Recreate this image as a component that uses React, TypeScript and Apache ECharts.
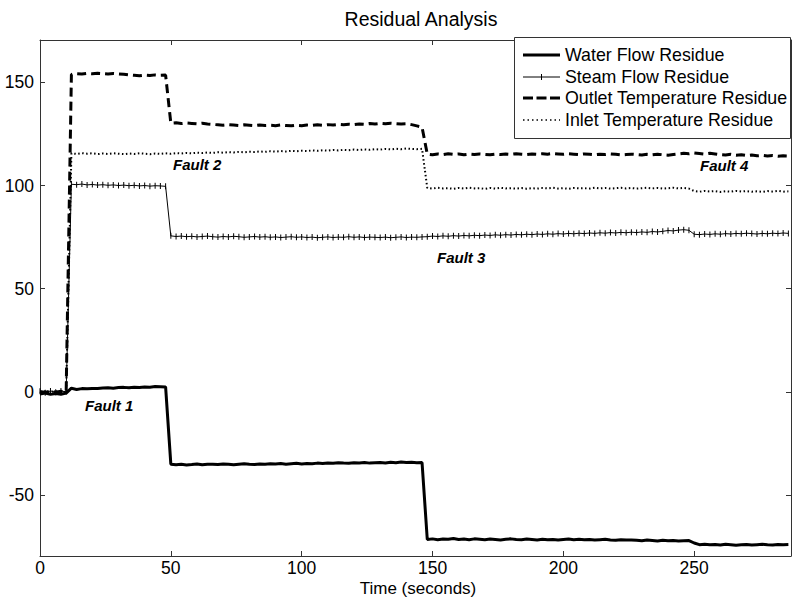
import React, { useEffect, useRef } from 'react';
import * as echarts from 'echarts';

const times = [0,2,4,6,8,10,12,14,16,18,20,22,24,26,28,30,32,34,36,38,40,42,44,46,48,50,52,54,56,58,60,62,64,66,68,70,72,74,76,78,80,82,84,86,88,90,92,94,96,98,100,102,104,106,108,110,112,114,116,118,120,122,124,126,128,130,132,134,136,138,140,142,144,146,148,150,152,154,156,158,160,162,164,166,168,170,172,174,176,178,180,182,184,186,188,190,192,194,196,198,200,202,204,206,208,210,212,214,216,218,220,222,224,226,228,230,232,234,236,238,240,242,244,246,248,250,252,254,256,258,260,262,264,266,268,270,272,274,276,278,280,282,284,286];

const waterFlow = [
  -1.0,-0.5,-1.2,-0.8,-1.1,-0.6,
  1.8,1.2,1.6,1.5,1.7,1.6,1.9,2.0,1.8,2.1,2.2,2.0,2.3,2.1,2.4,2.3,2.6,2.5,2.4,
  -35.0,-35.3,-35.1,-35.4,-35.2,-34.9,-35.3,-35.1,-35.0,-35.2,
  -34.9,-35.1,-35.3,-35.0,-34.8,-35.1,-35.2,-34.9,-35.0,-34.8,
  -34.9,-34.7,-35.0,-34.8,-34.6,-34.9,-34.7,-34.8,-34.5,-34.7,
  -34.4,-34.6,-34.3,-34.5,-34.6,-34.3,-34.4,-34.2,-34.5,-34.3,
  -34.2,-34.4,-34.1,-34.3,-34.0,-34.2,-34.1,-34.3,-34.2,
  -71.5,-71.2,-71.6,-71.3,-71.4,-71.0,-71.5,-71.3,-71.6,-71.2,
  -71.4,-71.6,-71.3,-71.5,-71.7,-71.4,-71.2,-71.5,-71.6,-71.3,
  -71.5,-71.7,-71.4,-71.6,-71.5,-71.8,-71.5,-71.3,-71.6,-71.4,
  -71.6,-71.5,-71.8,-71.6,-71.4,-71.7,-71.9,-71.6,-71.8,-71.7,
  -71.9,-72.1,-71.8,-72.0,-72.2,-71.9,-72.1,-72.0,-72.2,-72.1,-72.0,
  -73.2,-74.0,-73.8,-74.1,-73.9,-74.2,-73.8,-74.0,-74.3,-74.1,-73.9,-74.2,-74.0,-73.8,-74.1,-74.2,-73.9,-74.0,-73.9
];

const steamFlow = [
  0.3,-0.4,0.5,-0.2,0.4,0.1,
  100.6,100.4,100.7,100.3,100.5,100.2,100.4,100.1,100.3,100.0,100.2,99.9,100.1,99.8,100.0,99.7,99.9,99.8,99.6,
  75.6,75.3,75.5,75.2,75.4,75.1,75.3,75.5,75.2,75.0,
  75.3,75.1,75.4,75.2,74.9,75.1,75.3,75.0,75.2,74.9,
  75.1,74.8,75.0,75.2,74.9,75.1,74.8,75.0,74.7,74.9,
  75.1,74.8,75.0,74.9,75.2,74.9,75.1,74.8,75.0,74.9,
  74.8,75.0,74.7,74.9,75.1,74.8,75.0,74.9,75.1,
  75.2,75.5,75.3,75.6,75.4,75.7,75.5,75.8,75.6,75.9,
  75.7,76.0,75.8,76.1,75.9,76.2,76.0,76.3,76.1,76.4,
  76.2,76.5,76.3,76.6,76.4,76.7,76.5,76.8,76.6,76.9,
  76.7,77.0,76.8,77.1,76.9,77.2,77.0,77.3,77.1,77.4,
  77.2,77.5,77.3,77.7,77.5,77.8,78.2,78.0,78.4,78.6,78.3,
  76.4,76.2,76.5,76.3,76.6,76.4,76.7,76.5,76.8,76.6,76.9,76.7,76.5,76.8,76.6,76.9,76.7,77.0,76.8
];

const outletTemp = [
  0.2,-0.3,0.4,-0.1,0.3,0.0,
  153.8,154.2,154.0,154.3,154.1,154.4,154.2,154.0,154.3,154.1,153.9,153.6,153.4,153.2,153.5,153.3,153.6,153.4,153.5,
  130.2,130.4,130.0,130.3,130.1,129.9,130.2,129.8,129.6,129.4,
  129.2,129.5,129.3,129.1,129.4,129.2,129.0,129.3,129.1,129.2,
  129.0,129.3,129.1,128.9,129.2,129.0,129.3,129.1,129.4,129.2,
  129.5,129.3,129.6,129.4,129.7,129.5,129.8,129.6,130.0,129.8,
  130.1,129.9,130.2,130.0,129.8,129.9,129.5,128.9,128.3,
  115.2,114.9,115.3,115.0,115.4,115.1,115.3,114.9,115.2,115.0,
  115.3,115.1,114.9,115.2,115.0,115.3,115.1,115.4,115.2,115.0,
  115.3,115.1,115.4,115.2,115.5,115.3,115.1,115.4,115.2,115.0,
  115.3,115.1,114.9,115.2,115.0,115.3,115.1,114.8,115.0,115.2,
  115.0,114.8,115.1,114.9,115.2,114.9,114.7,115.0,115.3,115.6,115.4,
  115.8,115.5,115.2,115.6,115.3,115.0,114.8,115.1,114.7,114.9,114.5,114.8,114.4,114.6,114.3,114.5,114.2,114.4,114.3
];

const inletTemp = [
  -0.2,0.3,-0.1,0.4,-0.3,0.1,
  115.6,115.3,115.7,115.4,115.6,115.2,115.5,115.3,115.6,115.4,115.2,115.5,115.3,115.6,115.4,115.2,115.5,115.3,115.6,
  115.4,115.7,115.5,115.8,115.6,115.9,115.7,116.0,115.8,116.1,
  115.9,116.2,116.0,116.3,116.1,116.4,116.2,116.5,116.3,116.6,
  116.4,116.7,116.5,116.8,116.6,116.9,116.7,117.0,116.8,117.1,
  116.9,117.2,117.0,117.3,117.1,117.4,117.2,117.5,117.3,117.6,
  117.4,117.7,117.5,117.8,117.6,117.9,117.7,117.6,117.8,
  98.8,98.5,98.9,98.6,98.7,98.4,98.8,98.5,98.9,98.6,
  98.7,98.4,98.8,98.5,98.9,98.6,98.7,98.5,98.8,98.4,
  98.7,98.5,98.8,98.6,98.9,98.5,98.7,98.4,98.8,98.6,
  98.7,98.5,98.9,98.6,98.8,98.5,98.7,98.9,98.6,98.8,
  98.5,98.7,98.9,98.6,98.8,98.5,98.7,98.9,98.6,98.8,98.5,
  97.3,97.0,97.4,97.1,97.3,96.9,97.2,97.0,97.4,97.1,97.3,97.0,97.2,96.9,97.3,97.1,97.4,97.0,97.2
];

const seriesNames = ['Water Flow Residue', 'Steam Flow Residue', 'Outlet Temperature Residue', 'Inlet Temperature Residue'];
const xTicks = [0, 50, 100, 150, 200, 250];
const yTicks = [-50, 0, 50, 100, 150];
const faultLabels = ['Fault 1', 'Fault 2', 'Fault 3', 'Fault 4'];

const FONT = '"Liberation Sans", Arial, Helvetica, sans-serif';

function pairs(vals: number[]) {
  return times.map((t, i) => [t, vals[i]]);
}

export default function App() {
  const ref = useRef<HTMLDivElement>(null);
  useEffect(() => {
    if (!ref.current) return;
    const chart = echarts.init(ref.current, undefined, { renderer: 'svg' });
    const axisLine = { show: true, onZero: false, lineStyle: { color: '#333', width: 1 } };
    const tick = { show: true, inside: true, length: 5, lineStyle: { color: '#333' } };
    const label = { color: '#000', fontSize: 17.5, fontFamily: FONT };

    const legendRows = [55, 77, 98, 120];
    const lx1 = 523;
    const lx2 = 560;
    const legendGraphics: any[] = [
      { type: 'rect', z: 100, shape: { x: 514.5, y: 37.5, width: 276, height: 101 }, style: { fill: '#fff', stroke: '#333', lineWidth: 1 } },
      { type: 'line', z: 101, shape: { x1: lx1, y1: legendRows[0], x2: lx2, y2: legendRows[0] }, style: { stroke: '#000', lineWidth: 3 } },
      { type: 'line', z: 101, shape: { x1: lx1, y1: legendRows[1], x2: lx2, y2: legendRows[1] }, style: { stroke: '#000', lineWidth: 1 } },
      { type: 'line', z: 101, shape: { x1: 541.5, y1: legendRows[1] - 3, x2: 541.5, y2: legendRows[1] + 3 }, style: { stroke: '#000', lineWidth: 1 } },
      { type: 'line', z: 101, shape: { x1: lx1, y1: legendRows[2], x2: lx2, y2: legendRows[2] }, style: { stroke: '#000', lineWidth: 3, lineDash: [10, 3.5] } },
      { type: 'line', z: 101, shape: { x1: lx1, y1: legendRows[3], x2: lx2, y2: legendRows[3] }, style: { stroke: '#000', lineWidth: 1.5, lineDash: [1.5, 3] } },
      ...seriesNames.map((n, i) => ({
        type: 'text', z: 101, x: 565, y: legendRows[i],
        style: { text: n, fill: '#000', font: `17.8px ${FONT}`, textVerticalAlign: 'middle' },
      })),
    ];

    const option: any = {
      animation: false,
      backgroundColor: '#fff',
      grid: { left: 40, top: 40, right: 1, bottom: 45, containLabel: false, outerBoundsMode: 'none' },
      xAxis: [
        {
          type: 'value', min: 0, max: 287, interval: 50, position: 'bottom',
          axisLine, axisTick: { ...tick, customValues: xTicks }, splitLine: { show: false },
          axisLabel: { ...label, margin: 3, customValues: xTicks },
        },
        {
          type: 'value', min: 0, max: 287, interval: 50, position: 'top',
          axisLine, axisTick: { ...tick, customValues: xTicks }, splitLine: { show: false }, axisLabel: { show: false },
        },
      ],
      yAxis: [
        {
          type: 'value', min: -79.5, max: 170.5, position: 'left',
          axisLine, axisTick: { ...tick, customValues: yTicks }, splitLine: { show: false },
          axisLabel: { ...label, margin: 6, customValues: yTicks },
        },
        {
          type: 'value', min: -79.5, max: 170.5, position: 'right',
          axisLine, axisTick: { ...tick, customValues: yTicks }, splitLine: { show: false },
          axisLabel: { show: false },
        },
      ],
      graphic: [
        { type: 'text', x: 421, y: 18.5, style: { text: 'Residual Analysis', fill: '#000', font: `19.5px ${FONT}`, textAlign: 'center', textVerticalAlign: 'middle' } },
        { type: 'text', x: 418, y: 588, style: { text: 'Time (seconds)', fill: '#000', font: `17px ${FONT}`, textAlign: 'center', textVerticalAlign: 'middle' } },
        { type: 'text', x: 85, y: 405, style: { text: faultLabels[0], fill: '#000', font: `italic bold 15px ${FONT}`, textVerticalAlign: 'middle' } },
        { type: 'text', x: 173, y: 164, style: { text: faultLabels[1], fill: '#000', font: `italic bold 15px ${FONT}`, textVerticalAlign: 'middle' } },
        { type: 'text', x: 437, y: 257.5, style: { text: faultLabels[2], fill: '#000', font: `italic bold 15px ${FONT}`, textVerticalAlign: 'middle' } },
        { type: 'text', x: 700, y: 165, style: { text: faultLabels[3], fill: '#000', font: `italic bold 15px ${FONT}`, textVerticalAlign: 'middle' } },
        ...legendGraphics,
      ],
      series: [
        {
          name: seriesNames[0], type: 'line', data: pairs(waterFlow), showSymbol: false, symbol: 'none',
          lineStyle: { color: '#000', width: 3 }, itemStyle: { color: '#000' }, silent: true, z: 5,
        },
        {
          name: seriesNames[1], type: 'line', data: pairs(steamFlow), showSymbol: true, showAllSymbol: true,
          symbol: 'rect', symbolSize: [1, 6],
          lineStyle: { color: '#000', width: 1 }, itemStyle: { color: '#000' }, silent: true, z: 4,
        },
        {
          name: seriesNames[2], type: 'line', data: pairs(outletTemp), showSymbol: false, symbol: 'none',
          lineStyle: { color: '#000', width: 3, type: [9, 5] }, itemStyle: { color: '#000' }, silent: true, z: 3,
        },
        {
          name: seriesNames[3], type: 'line', data: pairs(inletTemp), showSymbol: false, symbol: 'none',
          lineStyle: { color: '#000', width: 2, type: [1.5, 2.5] }, itemStyle: { color: '#000' }, silent: true, z: 2,
        },
      ],
    };
    chart.setOption(option);
    return () => chart.dispose();
  }, []);
  return <div ref={ref} style={{ position: 'fixed', left: 0, top: 0, width: 792, height: 601 }} />;
}
